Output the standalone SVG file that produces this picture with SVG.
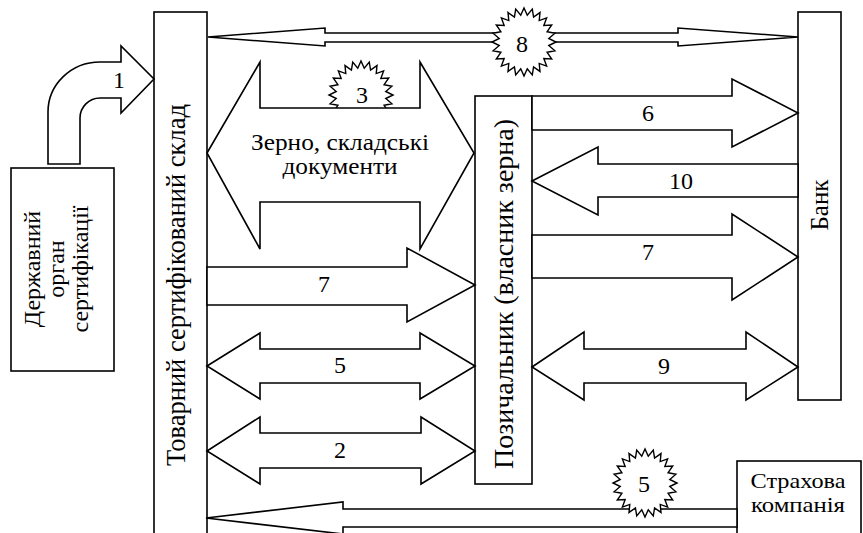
<svg xmlns="http://www.w3.org/2000/svg" xmlns:xlink="http://www.w3.org/1999/xlink" width="863" height="533" viewBox="0 0 863 533" font-family="'Liberation Serif', 'DejaVu Serif', serif">
  <style>
    .box { fill: #fff; stroke: #000; stroke-width: 1.6; }
    .arw { fill: #fff; stroke: #000; stroke-width: 1.6; stroke-linejoin: miter; }
    .star { fill: #fff; stroke: #000; stroke-width: 1.4; stroke-linejoin: miter; }
    .lbl, .num { font-family: "Liberation Serif", "DejaVu Serif", serif; fill: #000; text-anchor: middle; font-size: 24px; }
  </style>
  <defs>
    <!-- 24-point starburst centred on the origin -->
    <polygon id="burst" class="star" points="32,0 24.79,3.52 30.91,8.8 23.1,10.33 27.71,17 19.83,16.44 22.63,24.04 15.22,21.42 16,29.44 9.57,24.94 8.28,32.84 3.26,26.77 0,34 -3.26,26.77 -8.28,32.84 -9.57,24.94 -16,29.44 -15.22,21.42 -22.63,24.04 -19.83,16.44 -27.71,17 -23.1,10.33 -30.91,8.8 -24.79,3.52 -32,0 -24.79,-3.52 -30.91,-8.8 -23.1,-10.33 -27.71,-17 -19.83,-16.44 -22.63,-24.04 -15.22,-21.42 -16,-29.44 -9.57,-24.94 -8.28,-32.84 -3.26,-26.77 0,-34 3.26,-26.77 8.28,-32.84 9.57,-24.94 16,-29.44 15.22,-21.42 22.63,-24.04 19.83,-16.44 27.71,-17 23.1,-10.33 30.91,-8.8 24.79,-3.52"/>
  </defs>

  <rect width="863" height="533" fill="#fff"/>

  <!-- Nodes -->
  <g id="node-cert">
    <rect class="box" x="11" y="168" width="103" height="203"/>
    <g transform="rotate(-90)">
      <text class="lbl" font-size="25" x="-269" y="40">Державний</text>
      <text class="lbl" font-size="25" x="-269" y="64">орган</text>
      <text class="lbl" font-size="25" x="-269" y="88">сертифікації</text>
    </g>
  </g>

  <g id="node-warehouse">
    <rect class="box" x="154" y="12" width="53" height="530"/>
    <text class="lbl" style="font-size:26.5px" transform="translate(185,285) rotate(-90)">Товарний сертифікований склад</text>
  </g>

  <g id="node-borrower">
    <rect class="box" x="475" y="96" width="57" height="388"/>
    <text class="lbl" style="font-size:28px" transform="translate(513,294) rotate(-90)">Позичальник (власник зерна)</text>
  </g>

  <g id="node-bank">
    <rect class="box" x="798" y="12" width="43" height="388"/>
    <text class="lbl" style="font-size:25px" transform="translate(828,205) rotate(-90)">Банк</text>
  </g>

  <g id="node-insurance">
    <rect class="box" x="737" y="461" width="124" height="80"/>
    <text class="lbl" style="font-size:22px" x="798" y="488" textLength="95" lengthAdjust="spacingAndGlyphs">Страхова</text>
    <text class="lbl" style="font-size:22px" x="798" y="512" textLength="94" lengthAdjust="spacingAndGlyphs">компанія</text>
  </g>

  <!-- Connectors -->
  <g id="connectors">
    <!-- 1: certification body to warehouse -->
    <path class="arw" d="M48,164 L48,112 A52,50 0 0 1 100,62 L121,62 L121,46 L154,79 L121,113 L121,98 L100,98 A20,20 0 0 0 80,118 L80,164 Z"/>
    <text class="num" x="119" y="88">1</text>

    <!-- 8: warehouse to bank -->
    <polygon class="arw" points="208,37 325,28 325,33 678,33 678,28 798,37 678,46 678,42 325,42 325,46"/>
    <use xlink:href="#burst" transform="translate(524,42)"/>
    <text class="num" x="522" y="52">8</text>

    <!-- 3: grain and warehouse documents -->
    <use xlink:href="#burst" transform="translate(361,95)"/>
    <polygon class="arw" points="207,153 260,62 260,108 420,108 420,62 474,153 420,249 420,202 260,202 260,249"/>
    <text class="num" x="362" y="103">3</text>
    <text class="lbl" x="340" y="150" textLength="178" lengthAdjust="spacingAndGlyphs">Зерно, складські</text>
    <text class="lbl" x="340" y="174" textLength="115" lengthAdjust="spacingAndGlyphs">документи</text>

    <!-- 6, 10, 7, 9: borrower and bank -->
    <polygon class="arw" points="532,96 732,96 732,79 798,113 732,147 732,130 532,130"/>
    <text class="num" x="648" y="121">6</text>
    <polygon class="arw" points="532,181 598,147 598,164 798,164 798,197 598,197 598,215"/>
    <text class="num" x="681" y="189">10</text>
    <polygon class="arw" points="532,235 732,235 732,214 798,257 732,300 732,278 532,278"/>
    <text class="num" x="648" y="260">7</text>
    <polygon class="arw" points="532,367 584,332 584,349 746,349 746,332 798,367 746,400 746,383 584,383 584,400"/>
    <text class="num" x="664" y="374">9</text>

    <!-- 7, 5, 2: warehouse and borrower -->
    <polygon class="arw" points="207,267 407,267 407,248 475,285 407,322 407,305 207,305"/>
    <text class="num" x="324" y="292">7</text>
    <polygon class="arw" points="207,366 260,333 260,349 420,349 420,333 475,366 420,399 420,383 260,383 260,399"/>
    <text class="num" x="340" y="373">5</text>
    <polygon class="arw" points="207,451 260,417 260,433 421,433 421,417 475,451 421,484 421,468 260,468 260,484"/>
    <text class="num" x="340" y="458">2</text>

    <!-- 5: insurance company to warehouse -->
    <polygon class="arw" points="206,518 343,502 343,509 737,509 737,527 343,527 343,534"/>
    <use xlink:href="#burst" transform="translate(645,483)"/>
    <text class="num" x="644" y="492">5</text>
  </g>
</svg>
